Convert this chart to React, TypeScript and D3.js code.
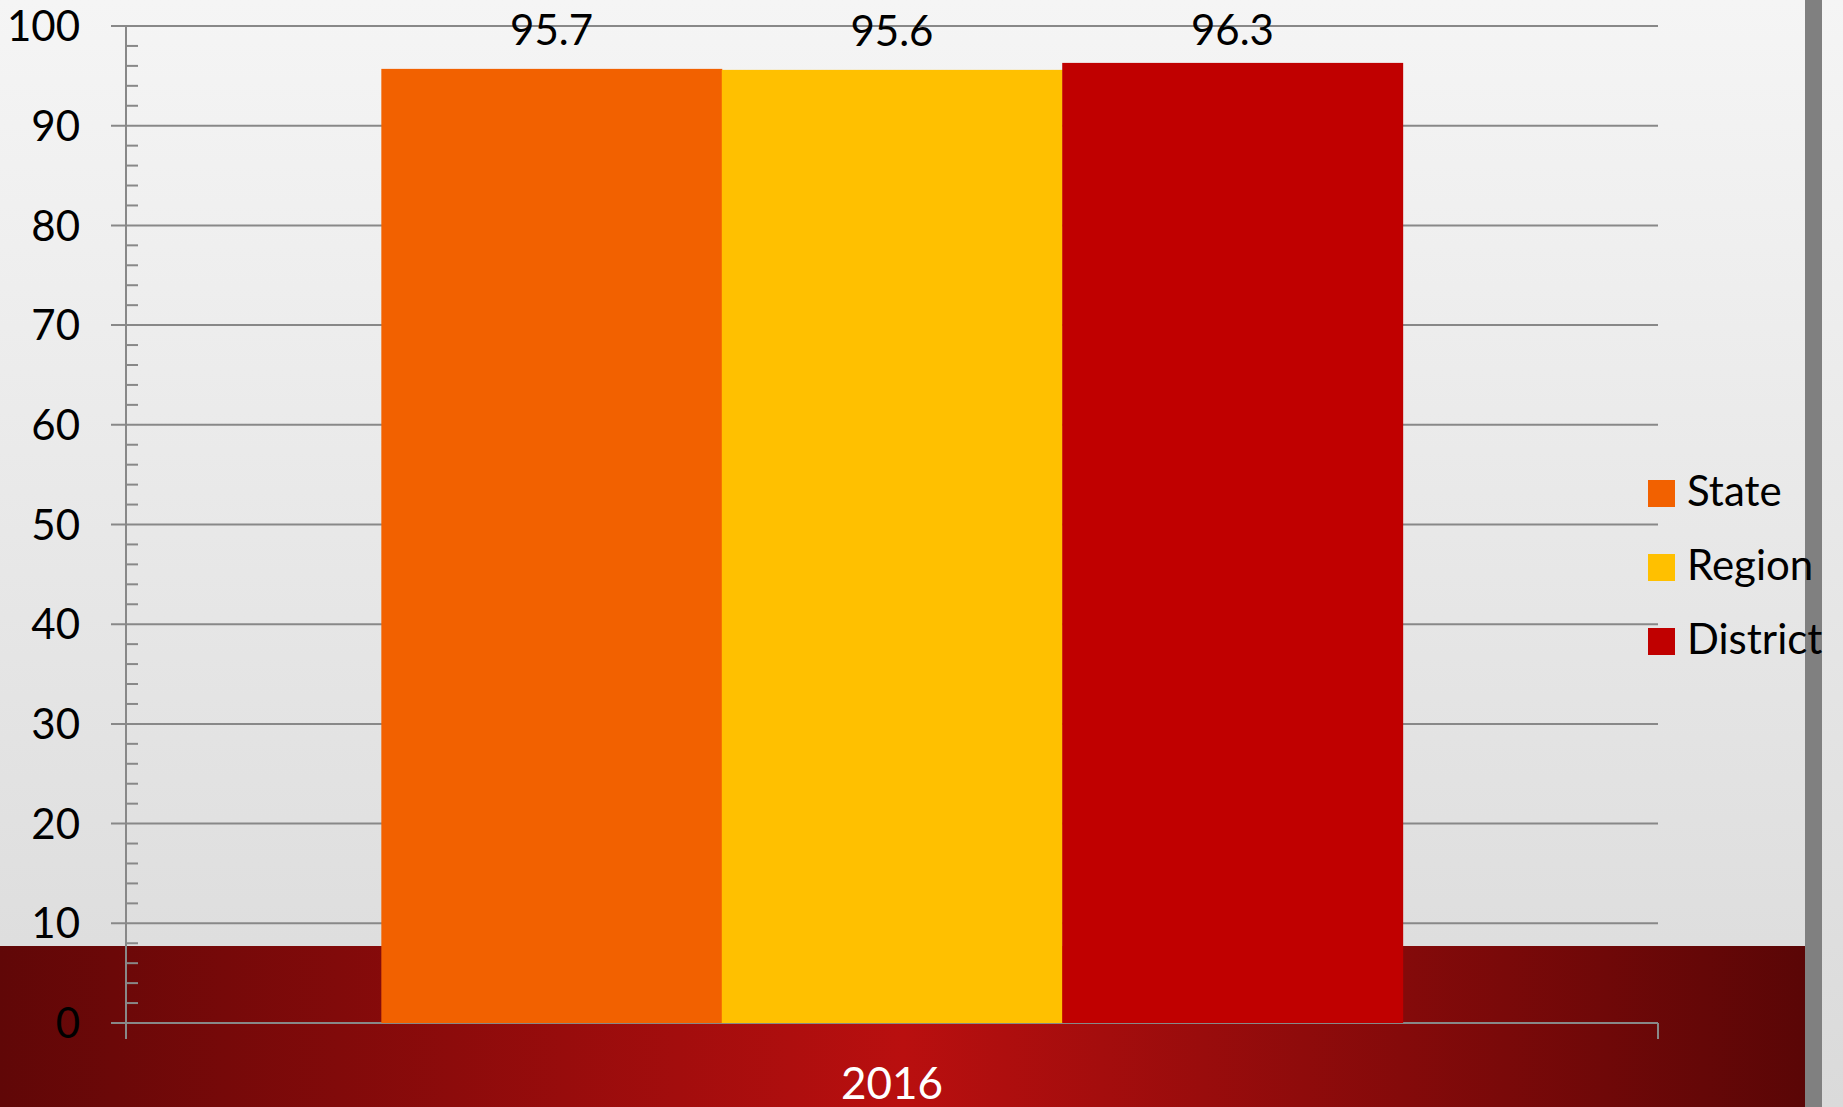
import React, { useRef, useEffect } from 'react';
import * as d3 from 'd3';

const categories = ['2016'];
const seriesNames = ['State', 'Region', 'District'];
const seriesValues = [95.7, 95.6, 96.3];
const seriesColors = ['#f26100', '#ffc000', '#c00000'];
const yTickValues = [0, 10, 20, 30, 40, 50, 60, 70, 80, 90, 100];

const W = 1843;
const H = 1107;
const FONT = 'Lato, Carlito, "Open Sans", sans-serif';

export default function App() {
  const ref = useRef<SVGSVGElement | null>(null);

  useEffect(() => {
    document.body.style.margin = '0';
    const svg = d3.select(ref.current);
    svg.selectAll('*').remove();

    const margin = { top: 26, right: 185, bottom: 84, left: 126 };
    const width = W - margin.left - margin.right;
    const height = H - margin.top - margin.bottom;

    const defs = svg.append('defs');
    const bg = defs.append('linearGradient').attr('id', 'bg').attr('x1', 0).attr('y1', 0).attr('x2', 0).attr('y2', 1);
    bg.append('stop').attr('offset', '0%').attr('stop-color', '#f5f5f5');
    bg.append('stop').attr('offset', '100%').attr('stop-color', '#dadada');
    const band = defs.append('linearGradient').attr('id', 'band').attr('x1', 0).attr('y1', 0).attr('x2', 1).attr('y2', 0);
    band.append('stop').attr('offset', '0%').attr('stop-color', '#600707');
    band.append('stop').attr('offset', '50%').attr('stop-color', '#b90f0f');
    band.append('stop').attr('offset', '100%').attr('stop-color', '#5a0606');

    // Backdrop
    svg.append('rect').attr('width', W).attr('height', H).attr('fill', 'url(#bg)');
    svg.append('rect').attr('x', 0).attr('y', 946).attr('width', 1806).attr('height', H - 946).attr('fill', 'url(#band)');
    svg.append('rect').attr('x', 1805).attr('y', 0).attr('width', 17).attr('height', H).attr('fill', '#808080');

    const x = d3.scaleBand().domain(categories).range([0, width]).paddingInner(0).paddingOuter(0.25);
    const xs = d3.scaleBand().domain(seriesNames).range([0, x.bandwidth()]).padding(0);
    const y = d3.scaleLinear().domain([0, 100]).range([height, 0]);

    const chart = svg.append('g').attr('transform', `translate(${margin.left},${margin.top})`);

    // Grid lines + major ticks
    chart.append('g')
      .selectAll('line')
      .data(yTickValues)
      .join('line')
      .attr('x1', -15)
      .attr('x2', width)
      .attr('y1', d => y(d))
      .attr('y2', d => y(d))
      .attr('stroke', '#888')
      .attr('stroke-width', 2);

    // Minor ticks
    const minor = d3.range(0, 100, 2).filter(v => v % 10 !== 0);
    chart.append('g')
      .selectAll('line')
      .data(minor)
      .join('line')
      .attr('x1', 0)
      .attr('x2', 12)
      .attr('y1', d => y(d))
      .attr('y2', d => y(d))
      .attr('stroke', '#888')
      .attr('stroke-width', 2);

    // Y axis line and right end tick
    chart.append('line').attr('x1', 0).attr('x2', 0).attr('y1', y(100)).attr('y2', height + 16)
      .attr('stroke', '#888').attr('stroke-width', 2);
    chart.append('line').attr('x1', width).attr('x2', width).attr('y1', height).attr('y2', height + 16)
      .attr('stroke', '#888').attr('stroke-width', 2);

    // Y tick labels
    chart.append('g')
      .selectAll('text')
      .data(yTickValues)
      .join('text')
      .attr('x', -46)
      .attr('y', d => y(d))
      .attr('dy', '0.36em')
      .attr('text-anchor', 'end')
      .attr('font-family', FONT)
      .attr('font-size', 42)
      .attr('fill', '#000')
      .text(d => d);

    // Bars
    const groups = chart.selectAll('g.cat')
      .data(categories)
      .join('g')
      .attr('class', 'cat')
      .attr('transform', d => `translate(${x(d)},0)`);

    groups.selectAll('rect')
      .data(seriesNames.map((s, i) => ({ s, v: seriesValues[i], c: seriesColors[i] })))
      .join('rect')
      .attr('x', d => xs(d.s)!)
      .attr('y', d => y(d.v))
      .attr('width', xs.bandwidth() + 0.5)
      .attr('height', d => height - y(d.v))
      .attr('fill', d => d.c);

    // Value labels (pushed down so they stay inside the chart, like the original)
    groups.selectAll('text.val')
      .data(seriesNames.map((s, i) => ({ s, v: seriesValues[i] })))
      .join('text')
      .attr('class', 'val')
      .attr('x', d => xs(d.s)! + xs.bandwidth() / 2)
      .attr('y', d => Math.max(y(d.v) - 24, y(100) + 19))
      .attr('text-anchor', 'middle')
      .attr('font-family', FONT)
      .attr('font-size', 42)
      .attr('fill', '#000')
      .text(d => d.v.toFixed(1));

    // Category labels
    chart.selectAll('text.cat')
      .data(categories)
      .join('text')
      .attr('class', 'cat')
      .attr('x', d => x(d)! + x.bandwidth() / 2)
      .attr('y', height + 76)
      .attr('text-anchor', 'middle')
      .attr('font-family', FONT)
      .attr('font-size', 44)
      .attr('fill', '#fff')
      .text(d => d);

    // Legend
    const legend = svg.append('g').attr('transform', 'translate(1648,480)');
    const items = legend.selectAll('g')
      .data(seriesNames)
      .join('g')
      .attr('transform', (d, i) => `translate(0,${i * 74})`);
    items.append('rect').attr('width', 27).attr('height', 27).attr('fill', (d, i) => seriesColors[i]);
    items.append('text')
      .attr('x', 39)
      .attr('y', 26)
      .attr('font-family', FONT)
      .attr('font-size', 42)
      .attr('fill', '#000')
      .text(d => d);
  }, []);

  return <svg ref={ref} width={W} height={H} style={{ display: 'block' }} />;
}
